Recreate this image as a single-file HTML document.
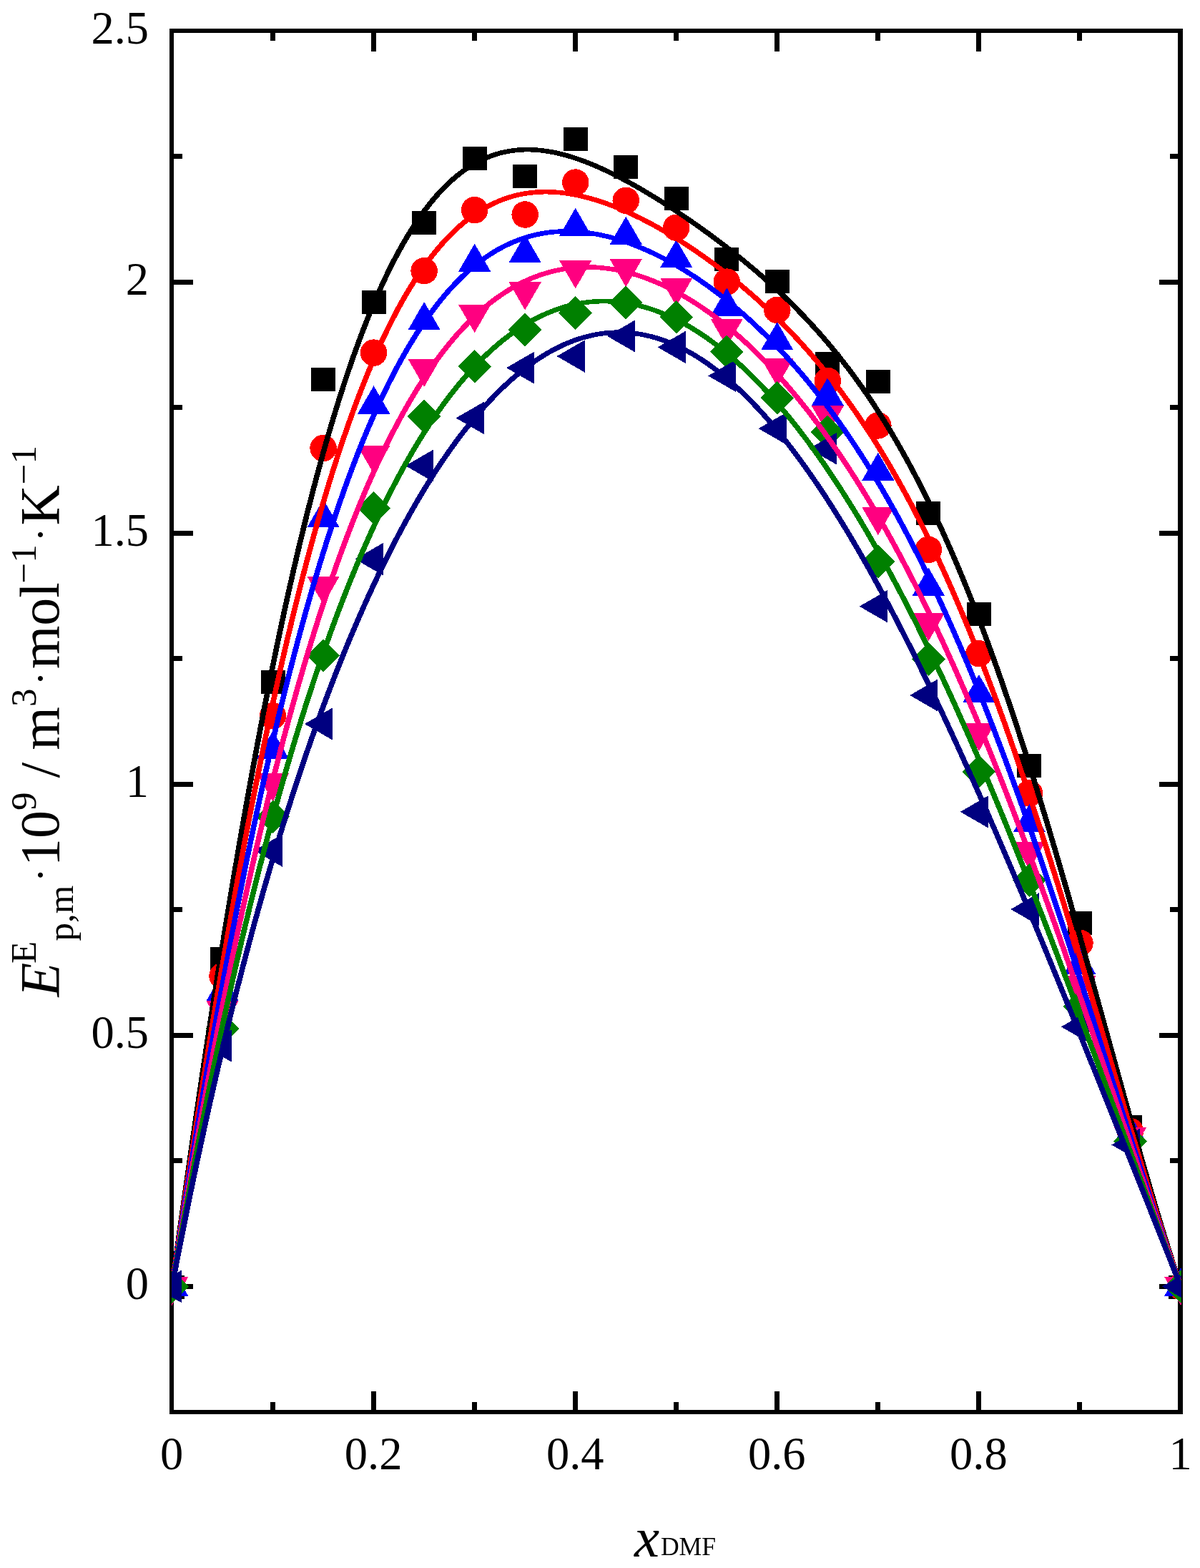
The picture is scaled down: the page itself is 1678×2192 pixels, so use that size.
<!DOCTYPE html>
<html lang="en"><head><meta charset="utf-8"><title>Excess molar isobaric expansion</title>
<style>html,body{margin:0;padding:0;background:#fff;overflow:hidden}svg{display:block}text{font-family:"Liberation Serif",serif;fill:#000}</style></head><body>
<svg width="1678" height="2192" viewBox="0 0 1678 2192">
<rect width="1678" height="2192" fill="#fff"/>
<g fill="#000" shape-rendering="crispEdges">
<rect x="237" y="40" width="6" height="1937"/>
<rect x="1647" y="40" width="7" height="1937"/>
<rect x="237" y="40" width="1417" height="6"/>
<rect x="237" y="1971" width="1417" height="6"/>
<rect x="378" y="1960" width="7" height="14"/><rect x="378" y="43" width="7" height="14"/>
<rect x="519" y="1945" width="7" height="29"/><rect x="519" y="43" width="7" height="29"/>
<rect x="660" y="1960" width="7" height="14"/><rect x="660" y="43" width="7" height="14"/>
<rect x="801" y="1945" width="7" height="29"/><rect x="801" y="43" width="7" height="29"/>
<rect x="942" y="1960" width="7" height="14"/><rect x="942" y="43" width="7" height="14"/>
<rect x="1083" y="1945" width="7" height="29"/><rect x="1083" y="43" width="7" height="29"/>
<rect x="1224" y="1960" width="7" height="14"/><rect x="1224" y="43" width="7" height="14"/>
<rect x="1365" y="1945" width="7" height="29"/><rect x="1365" y="43" width="7" height="29"/>
<rect x="1506" y="1960" width="7" height="14"/><rect x="1506" y="43" width="7" height="14"/>
<rect x="240" y="1795" width="30" height="7"/><rect x="1621" y="1795" width="29" height="7"/>
<rect x="240" y="1619" width="15" height="7"/><rect x="1636" y="1619" width="14" height="7"/>
<rect x="240" y="1444" width="30" height="7"/><rect x="1621" y="1444" width="29" height="7"/>
<rect x="240" y="1268" width="15" height="7"/><rect x="1636" y="1268" width="14" height="7"/>
<rect x="240" y="1093" width="30" height="7"/><rect x="1621" y="1093" width="29" height="7"/>
<rect x="240" y="917" width="15" height="7"/><rect x="1636" y="917" width="14" height="7"/>
<rect x="240" y="742" width="30" height="7"/><rect x="1621" y="742" width="29" height="7"/>
<rect x="240" y="566" width="15" height="7"/><rect x="1636" y="566" width="14" height="7"/>
<rect x="240" y="391" width="30" height="7"/><rect x="1621" y="391" width="29" height="7"/>
<rect x="240" y="215" width="15" height="7"/><rect x="1636" y="215" width="14" height="7"/>
</g>
<g font-size="64.5" text-anchor="middle">
<text x="240.00" y="2053.8">0</text>
<text x="522.10" y="2053.8">0.2</text>
<text x="804.20" y="2053.8">0.4</text>
<text x="1086.30" y="2053.8">0.6</text>
<text x="1368.40" y="2053.8">0.8</text>
<text x="1650.50" y="2053.8">1</text>
</g>
<g font-size="64.5" text-anchor="end">
<text x="208" y="1816.35">0</text>
<text x="208" y="1465.26">0.5</text>
<text x="208" y="1114.17">1</text>
<text x="208" y="763.08">1.5</text>
<text x="208" y="411.99">2</text>
<text x="208" y="60.90">2.5</text>
</g>
<text transform="translate(81.8 1400) rotate(-90)"><tspan x="6.6" y="0.0" font-size="78" font-style="italic">E</tspan><tspan x="52.9" y="-31.4" font-size="51">E</tspan><tspan x="84.5" y="20.3" font-size="51">p,m</tspan><tspan x="166.9" y="-6.2" font-size="59">·</tspan><tspan x="189.0" y="0.0" font-size="78">10</tspan><tspan x="267.1" y="-31.4" font-size="51">9</tspan><tspan x="312.4" y="0.0" font-size="78">/</tspan><tspan x="351.3" y="0.0" font-size="78">m</tspan><tspan x="412.0" y="-31.4" font-size="51">3</tspan><tspan x="441.8" y="-6.2" font-size="59">·</tspan><tspan x="464.7" y="0.0" font-size="78">mol</tspan><tspan x="584.6" y="-31.4" font-size="51">−1</tspan><tspan x="642.7" y="-6.2" font-size="59">·</tspan><tspan x="665.6" y="0.0" font-size="78">K</tspan><tspan x="722.7" y="-31.4" font-size="51">−1</tspan></text>
<text><tspan x="886.9" y="2175.8" font-size="79" font-style="italic">x</tspan><tspan x="923.9" y="2174.1" font-size="35.6">DMF</tspan></text>
<defs><clipPath id="c"><rect x="240" y="43" width="1412" height="1931" shape-rendering="crispEdges"/></clipPath></defs>
<g clip-path="url(#c)" shape-rendering="crispEdges">
<rect x="223.50" y="1782.94" width="34" height="33" fill="#000000"/>
<rect x="294.02" y="1324.13" width="34" height="33" fill="#000000"/>
<rect x="364.55" y="937.23" width="34" height="33" fill="#000000"/>
<rect x="435.07" y="513.81" width="34" height="33" fill="#000000"/>
<rect x="505.60" y="405.68" width="34" height="33" fill="#000000"/>
<rect x="576.12" y="294.73" width="34" height="33" fill="#000000"/>
<rect x="646.65" y="204.85" width="34" height="33" fill="#000000"/>
<rect x="717.17" y="230.13" width="34" height="33" fill="#000000"/>
<rect x="787.70" y="178.17" width="34" height="33" fill="#000000"/>
<rect x="858.23" y="217.49" width="34" height="33" fill="#000000"/>
<rect x="928.75" y="261.03" width="34" height="33" fill="#000000"/>
<rect x="999.28" y="345.99" width="34" height="33" fill="#000000"/>
<rect x="1069.80" y="376.89" width="34" height="33" fill="#000000"/>
<rect x="1140.33" y="492.05" width="34" height="33" fill="#000000"/>
<rect x="1210.85" y="516.62" width="34" height="33" fill="#000000"/>
<rect x="1281.38" y="701.30" width="34" height="33" fill="#000000"/>
<rect x="1351.90" y="841.73" width="34" height="33" fill="#000000"/>
<rect x="1422.42" y="1053.79" width="34" height="33" fill="#000000"/>
<rect x="1492.95" y="1274.28" width="34" height="33" fill="#000000"/>
<rect x="1563.47" y="1559.36" width="34" height="33" fill="#000000"/>
<rect x="1634.00" y="1782.94" width="34" height="33" fill="#000000"/>
<circle cx="240.50" cy="1798.45" r="18.75" fill="#ff0000"/>
<circle cx="311.02" cy="1364.51" r="18.75" fill="#ff0000"/>
<circle cx="381.55" cy="1000.78" r="18.75" fill="#ff0000"/>
<circle cx="452.07" cy="626.51" r="18.75" fill="#ff0000"/>
<circle cx="522.60" cy="493.10" r="18.75" fill="#ff0000"/>
<circle cx="593.12" cy="378.64" r="18.75" fill="#ff0000"/>
<circle cx="663.65" cy="293.68" r="18.75" fill="#ff0000"/>
<circle cx="734.17" cy="300.00" r="18.75" fill="#ff0000"/>
<circle cx="804.70" cy="255.06" r="18.75" fill="#ff0000"/>
<circle cx="875.23" cy="280.34" r="18.75" fill="#ff0000"/>
<circle cx="945.75" cy="318.26" r="18.75" fill="#ff0000"/>
<circle cx="1016.28" cy="394.09" r="18.75" fill="#ff0000"/>
<circle cx="1086.80" cy="433.41" r="18.75" fill="#ff0000"/>
<circle cx="1157.33" cy="532.42" r="18.75" fill="#ff0000"/>
<circle cx="1227.85" cy="594.91" r="18.75" fill="#ff0000"/>
<circle cx="1298.38" cy="768.35" r="18.75" fill="#ff0000"/>
<circle cx="1368.90" cy="913.71" r="18.75" fill="#ff0000"/>
<circle cx="1439.42" cy="1108.91" r="18.75" fill="#ff0000"/>
<circle cx="1509.95" cy="1318.16" r="18.75" fill="#ff0000"/>
<circle cx="1580.47" cy="1581.48" r="18.75" fill="#ff0000"/>
<circle cx="1651.00" cy="1798.45" r="18.75" fill="#ff0000"/>
<polygon points="240.50,1772.30 217.85,1811.53 263.15,1811.53" fill="#0000ff"/>
<polygon points="311.02,1360.12 288.38,1399.35 333.67,1399.35" fill="#0000ff"/>
<polygon points="381.55,1021.67 358.90,1060.90 404.20,1060.90" fill="#0000ff"/>
<polygon points="452.07,697.96 429.43,737.19 474.72,737.19" fill="#0000ff"/>
<polygon points="522.60,539.27 499.95,578.50 545.25,578.50" fill="#0000ff"/>
<polygon points="593.12,422.00 570.48,461.24 615.77,461.24" fill="#0000ff"/>
<polygon points="663.65,340.55 641.00,379.78 686.30,379.78" fill="#0000ff"/>
<polygon points="734.17,327.91 711.52,367.14 756.82,367.14" fill="#0000ff"/>
<polygon points="804.70,290.70 782.05,329.93 827.35,329.93" fill="#0000ff"/>
<polygon points="875.23,302.63 852.58,341.86 897.88,341.86" fill="#0000ff"/>
<polygon points="945.75,334.93 923.10,374.17 968.40,374.17" fill="#0000ff"/>
<polygon points="1016.28,402.34 993.63,441.57 1038.93,441.57" fill="#0000ff"/>
<polygon points="1086.80,450.09 1064.15,489.32 1109.45,489.32" fill="#0000ff"/>
<polygon points="1157.33,528.03 1134.67,567.27 1179.98,567.27" fill="#0000ff"/>
<polygon points="1227.85,632.66 1205.20,671.89 1250.50,671.89" fill="#0000ff"/>
<polygon points="1298.38,793.46 1275.72,832.69 1321.03,832.69" fill="#0000ff"/>
<polygon points="1368.90,943.02 1346.25,982.25 1391.55,982.25" fill="#0000ff"/>
<polygon points="1439.42,1124.19 1416.77,1163.42 1462.08,1163.42" fill="#0000ff"/>
<polygon points="1509.95,1322.90 1487.30,1362.14 1532.60,1362.14" fill="#0000ff"/>
<polygon points="1580.47,1558.14 1557.82,1597.37 1603.12,1597.37" fill="#0000ff"/>
<polygon points="1651.00,1772.30 1628.35,1811.53 1673.65,1811.53" fill="#0000ff"/>
<polygon points="240.50,1824.61 217.85,1785.38 263.15,1785.38" fill="#ff0080"/>
<polygon points="311.02,1438.41 288.38,1399.18 333.67,1399.18" fill="#ff0080"/>
<polygon points="381.55,1120.32 358.90,1081.09 404.20,1081.09" fill="#ff0080"/>
<polygon points="452.07,845.06 429.43,805.83 474.72,805.83" fill="#ff0080"/>
<polygon points="522.60,662.50 499.95,623.27 545.25,623.27" fill="#ff0080"/>
<polygon points="593.12,541.02 570.48,501.79 615.77,501.79" fill="#ff0080"/>
<polygon points="663.65,465.18 641.00,425.95 686.30,425.95" fill="#ff0080"/>
<polygon points="734.17,433.59 711.52,394.36 756.82,394.36" fill="#ff0080"/>
<polygon points="804.70,403.39 782.05,364.16 827.35,364.16" fill="#ff0080"/>
<polygon points="875.23,401.29 852.58,362.06 897.88,362.06" fill="#ff0080"/>
<polygon points="945.75,427.97 923.10,388.74 968.40,388.74" fill="#ff0080"/>
<polygon points="1016.28,484.85 993.63,445.61 1038.93,445.61" fill="#ff0080"/>
<polygon points="1086.80,540.32 1064.15,501.09 1109.45,501.09" fill="#ff0080"/>
<polygon points="1157.33,606.32 1134.67,567.09 1179.98,567.09" fill="#ff0080"/>
<polygon points="1227.85,748.16 1205.20,708.93 1250.50,708.93" fill="#ff0080"/>
<polygon points="1298.38,896.32 1275.72,857.09 1321.03,857.09" fill="#ff0080"/>
<polygon points="1368.90,1050.10 1346.25,1010.87 1391.55,1010.87" fill="#ff0080"/>
<polygon points="1439.42,1215.82 1416.77,1176.59 1462.08,1176.59" fill="#ff0080"/>
<polygon points="1509.95,1403.30 1487.30,1364.07 1532.60,1364.07" fill="#ff0080"/>
<polygon points="1580.47,1615.36 1557.82,1576.13 1603.12,1576.13" fill="#ff0080"/>
<polygon points="1651.00,1824.61 1628.35,1785.38 1673.65,1785.38" fill="#ff0080"/>
<polygon points="240.50,1775.05 263.90,1798.45 240.50,1821.85 217.10,1798.45" fill="#008000"/>
<polygon points="311.02,1414.84 334.42,1438.24 311.02,1461.64 287.62,1438.24" fill="#008000"/>
<polygon points="381.55,1118.51 404.95,1141.91 381.55,1165.31 358.15,1141.91" fill="#008000"/>
<polygon points="452.07,893.11 475.47,916.51 452.07,939.91 428.68,916.51" fill="#008000"/>
<polygon points="522.60,686.67 546.00,710.07 522.60,733.47 499.20,710.07" fill="#008000"/>
<polygon points="593.12,558.88 616.52,582.28 593.12,605.68 569.73,582.28" fill="#008000"/>
<polygon points="663.65,488.66 687.05,512.06 663.65,535.46 640.25,512.06" fill="#008000"/>
<polygon points="734.17,437.40 757.57,460.80 734.17,484.20 710.77,460.80" fill="#008000"/>
<polygon points="804.70,414.23 828.10,437.63 804.70,461.03 781.30,437.63" fill="#008000"/>
<polygon points="875.23,399.48 898.62,422.88 875.23,446.28 851.83,422.88" fill="#008000"/>
<polygon points="945.75,419.84 969.15,443.24 945.75,466.64 922.35,443.24" fill="#008000"/>
<polygon points="1016.28,468.29 1039.68,491.69 1016.28,515.09 992.88,491.69" fill="#008000"/>
<polygon points="1086.80,532.89 1110.20,556.29 1086.80,579.69 1063.40,556.29" fill="#008000"/>
<polygon points="1157.33,580.64 1180.73,604.04 1157.33,627.44 1133.92,604.04" fill="#008000"/>
<polygon points="1227.85,761.81 1251.25,785.21 1227.85,808.61 1204.45,785.21" fill="#008000"/>
<polygon points="1298.38,898.03 1321.78,921.43 1298.38,944.83 1274.97,921.43" fill="#008000"/>
<polygon points="1368.90,1055.32 1392.30,1078.72 1368.90,1102.12 1345.50,1078.72" fill="#008000"/>
<polygon points="1439.42,1206.99 1462.83,1230.39 1439.42,1253.79 1416.02,1230.39" fill="#008000"/>
<polygon points="1509.95,1383.24 1533.35,1406.64 1509.95,1430.04 1486.55,1406.64" fill="#008000"/>
<polygon points="1580.47,1572.12 1603.88,1595.52 1580.47,1618.92 1557.07,1595.52" fill="#008000"/>
<polygon points="1651.00,1775.05 1674.40,1798.45 1651.00,1821.85 1627.60,1798.45" fill="#008000"/>
<polygon points="214.35,1798.45 253.58,1775.80 253.58,1821.10" fill="#000080"/>
<polygon points="284.87,1462.11 324.10,1439.46 324.10,1484.76" fill="#000080"/>
<polygon points="355.40,1188.96 394.63,1166.31 394.63,1211.61" fill="#000080"/>
<polygon points="425.92,1012.01 465.15,989.36 465.15,1034.66" fill="#000080"/>
<polygon points="496.45,781.70 535.68,759.05 535.68,804.35" fill="#000080"/>
<polygon points="566.97,651.09 606.20,628.44 606.20,673.74" fill="#000080"/>
<polygon points="637.50,584.38 676.73,561.73 676.73,607.03" fill="#000080"/>
<polygon points="708.02,514.16 747.25,491.51 747.25,536.81" fill="#000080"/>
<polygon points="778.55,498.01 817.78,475.36 817.78,520.66" fill="#000080"/>
<polygon points="849.07,469.93 888.30,447.28 888.30,492.58" fill="#000080"/>
<polygon points="919.60,485.37 958.83,462.72 958.83,508.02" fill="#000080"/>
<polygon points="990.12,525.40 1029.35,502.75 1029.35,548.05" fill="#000080"/>
<polygon points="1060.65,599.13 1099.88,576.48 1099.88,621.78" fill="#000080"/>
<polygon points="1131.17,627.22 1170.40,604.57 1170.40,649.87" fill="#000080"/>
<polygon points="1201.70,847.70 1240.93,825.05 1240.93,870.35" fill="#000080"/>
<polygon points="1272.22,971.99 1311.45,949.34 1311.45,994.64" fill="#000080"/>
<polygon points="1342.75,1134.89 1381.98,1112.24 1381.98,1157.54" fill="#000080"/>
<polygon points="1413.27,1271.12 1452.50,1248.47 1452.50,1293.77" fill="#000080"/>
<polygon points="1483.80,1435.43 1523.03,1412.78 1523.03,1458.08" fill="#000080"/>
<polygon points="1554.32,1600.44 1593.55,1577.79 1593.55,1623.09" fill="#000080"/>
<polygon points="1624.85,1798.45 1664.08,1775.80 1664.08,1821.10" fill="#000080"/>
<path d="M239.95 1798.45 L247.00 1747.49 L254.05 1697.18 L261.11 1647.57 L268.16 1598.67 L275.21 1550.52 L282.26 1503.14 L289.32 1456.56 L296.37 1410.79 L303.42 1365.86 L310.47 1321.77 L317.53 1278.56 L324.58 1236.22 L331.63 1194.79 L338.69 1154.25 L345.74 1114.63 L352.79 1075.94 L359.84 1038.18 L366.89 1001.35 L373.95 965.46 L381.00 930.51 L388.05 896.51 L395.10 863.45 L402.16 831.33 L409.21 800.16 L416.26 769.93 L423.31 740.63 L430.37 712.27 L437.42 684.83 L444.47 658.31 L451.52 632.70 L458.58 607.99 L465.63 584.18 L472.68 561.26 L479.74 539.21 L486.79 518.03 L493.84 497.69 L500.89 478.20 L507.94 459.54 L515.00 441.70 L522.05 424.65 L529.10 408.40 L536.15 392.92 L543.21 378.19 L550.26 364.22 L557.31 350.97 L564.37 338.43 L571.42 326.60 L578.47 315.44 L585.52 304.95 L592.58 295.11 L599.63 285.90 L606.68 277.31 L613.73 269.32 L620.79 261.91 L627.84 255.07 L634.89 248.77 L641.94 243.01 L649.00 237.77 L656.05 233.02 L663.10 228.76 L670.15 224.96 L677.21 221.62 L684.26 218.70 L691.31 216.21 L698.36 214.12 L705.42 212.42 L712.47 211.09 L719.52 210.11 L726.57 209.48 L733.63 209.18 L740.68 209.19 L747.73 209.50 L754.78 210.09 L761.84 210.96 L768.89 212.08 L775.94 213.46 L782.99 215.07 L790.05 216.90 L797.10 218.94 L804.15 221.19 L811.20 223.63 L818.26 226.24 L825.31 229.03 L832.36 231.98 L839.41 235.08 L846.47 238.32 L853.52 241.70 L860.57 245.21 L867.62 248.84 L874.68 252.58 L881.73 256.44 L888.78 260.39 L895.83 264.45 L902.89 268.60 L909.94 272.84 L916.99 277.16 L924.04 281.57 L931.10 286.06 L938.15 290.62 L945.20 295.27 L952.25 299.98 L959.31 304.77 L966.36 309.64 L973.41 314.57 L980.46 319.58 L987.52 324.67 L994.57 329.83 L1001.62 335.08 L1008.67 340.40 L1015.73 345.81 L1022.78 351.30 L1029.83 356.89 L1036.88 362.57 L1043.94 368.34 L1050.99 374.23 L1058.04 380.22 L1065.09 386.32 L1072.14 392.55 L1079.20 398.90 L1086.25 405.38 L1093.30 412.01 L1100.36 418.78 L1107.41 425.70 L1114.46 432.79 L1121.51 440.04 L1128.57 447.47 L1135.62 455.09 L1142.67 462.90 L1149.72 470.91 L1156.78 479.13 L1163.83 487.57 L1170.88 496.24 L1177.93 505.14 L1184.99 514.29 L1192.04 523.70 L1199.09 533.37 L1206.14 543.31 L1213.20 553.54 L1220.25 564.05 L1227.30 574.87 L1234.35 585.99 L1241.40 597.43 L1248.46 609.19 L1255.51 621.29 L1262.56 633.73 L1269.62 646.52 L1276.67 659.66 L1283.72 673.17 L1290.77 687.04 L1297.83 701.29 L1304.88 715.92 L1311.93 730.94 L1318.98 746.35 L1326.04 762.16 L1333.09 778.36 L1340.14 794.97 L1347.19 811.99 L1354.25 829.41 L1361.30 847.24 L1368.35 865.48 L1375.40 884.13 L1382.46 903.19 L1389.51 922.65 L1396.56 942.52 L1403.61 962.79 L1410.67 983.44 L1417.72 1004.49 L1424.77 1025.92 L1431.82 1047.73 L1438.88 1069.89 L1445.93 1092.41 L1452.98 1115.28 L1460.03 1138.47 L1467.09 1161.98 L1474.14 1185.79 L1481.19 1209.88 L1488.24 1234.23 L1495.30 1258.83 L1502.35 1283.65 L1509.40 1308.67 L1516.45 1333.87 L1523.51 1359.21 L1530.56 1384.67 L1537.61 1410.22 L1544.66 1435.83 L1551.72 1461.45 L1558.77 1487.07 L1565.82 1512.63 L1572.87 1538.11 L1579.93 1563.44 L1586.98 1588.60 L1594.03 1613.54 L1601.08 1638.19 L1608.13 1662.53 L1615.19 1686.48 L1622.24 1709.99 L1629.29 1733.01 L1636.35 1755.47 L1643.40 1777.31 L1650.45 1798.45" fill="none" stroke="#000000" stroke-width="6.5" stroke-linejoin="round"/><path d="M241.05 1798.45 L248.10 1747.49 L255.16 1697.18 L262.21 1647.57 L269.26 1598.67 L276.31 1550.52 L283.37 1503.14 L290.42 1456.56 L297.47 1410.79 L304.52 1365.86 L311.57 1321.77 L318.63 1278.56 L325.68 1236.22 L332.73 1194.79 L339.79 1154.25 L346.84 1114.63 L353.89 1075.94 L360.94 1038.18 L368.00 1001.35 L375.05 965.46 L382.10 930.51 L389.15 896.51 L396.20 863.45 L403.26 831.33 L410.31 800.16 L417.36 769.93 L424.42 740.63 L431.47 712.27 L438.52 684.83 L445.57 658.31 L452.62 632.70 L459.68 607.99 L466.73 584.18 L473.78 561.26 L480.84 539.21 L487.89 518.03 L494.94 497.69 L501.99 478.20 L509.05 459.54 L516.10 441.70 L523.15 424.65 L530.20 408.40 L537.25 392.92 L544.31 378.19 L551.36 364.22 L558.41 350.97 L565.46 338.43 L572.52 326.60 L579.57 315.44 L586.62 304.95 L593.67 295.11 L600.73 285.90 L607.78 277.31 L614.83 269.32 L621.88 261.91 L628.94 255.07 L635.99 248.77 L643.04 243.01 L650.09 237.77 L657.15 233.02 L664.20 228.76 L671.25 224.96 L678.30 221.62 L685.36 218.70 L692.41 216.21 L699.46 214.12 L706.51 212.42 L713.57 211.09 L720.62 210.11 L727.67 209.48 L734.73 209.18 L741.78 209.19 L748.83 209.50 L755.88 210.09 L762.93 210.96 L769.99 212.08 L777.04 213.46 L784.09 215.07 L791.14 216.90 L798.20 218.94 L805.25 221.19 L812.30 223.63 L819.36 226.24 L826.41 229.03 L833.46 231.98 L840.51 235.08 L847.56 238.32 L854.62 241.70 L861.67 245.21 L868.72 248.84 L875.77 252.58 L882.83 256.44 L889.88 260.39 L896.93 264.45 L903.99 268.60 L911.04 272.84 L918.09 277.16 L925.14 281.57 L932.19 286.06 L939.25 290.62 L946.30 295.27 L953.35 299.98 L960.40 304.77 L967.46 309.64 L974.51 314.57 L981.56 319.58 L988.62 324.67 L995.67 329.83 L1002.72 335.08 L1009.77 340.40 L1016.83 345.81 L1023.88 351.30 L1030.93 356.89 L1037.98 362.57 L1045.04 368.34 L1052.09 374.23 L1059.14 380.22 L1066.19 386.32 L1073.24 392.55 L1080.30 398.90 L1087.35 405.38 L1094.40 412.01 L1101.45 418.78 L1108.51 425.70 L1115.56 432.79 L1122.61 440.04 L1129.66 447.47 L1136.72 455.09 L1143.77 462.90 L1150.82 470.91 L1157.88 479.13 L1164.93 487.57 L1171.98 496.24 L1179.03 505.14 L1186.09 514.29 L1193.14 523.70 L1200.19 533.37 L1207.24 543.31 L1214.30 553.54 L1221.35 564.05 L1228.40 574.87 L1235.45 585.99 L1242.50 597.43 L1249.56 609.19 L1256.61 621.29 L1263.66 633.73 L1270.71 646.52 L1277.77 659.66 L1284.82 673.17 L1291.87 687.04 L1298.92 701.29 L1305.98 715.92 L1313.03 730.94 L1320.08 746.35 L1327.13 762.16 L1334.19 778.36 L1341.24 794.97 L1348.29 811.99 L1355.35 829.41 L1362.40 847.24 L1369.45 865.48 L1376.50 884.13 L1383.56 903.19 L1390.61 922.65 L1397.66 942.52 L1404.71 962.79 L1411.77 983.44 L1418.82 1004.49 L1425.87 1025.92 L1432.92 1047.73 L1439.97 1069.89 L1447.03 1092.41 L1454.08 1115.28 L1461.13 1138.47 L1468.18 1161.98 L1475.24 1185.79 L1482.29 1209.88 L1489.34 1234.23 L1496.39 1258.83 L1503.45 1283.65 L1510.50 1308.67 L1517.55 1333.87 L1524.61 1359.21 L1531.66 1384.67 L1538.71 1410.22 L1545.76 1435.83 L1552.82 1461.45 L1559.87 1487.07 L1566.92 1512.63 L1573.97 1538.11 L1581.03 1563.44 L1588.08 1588.60 L1595.13 1613.54 L1602.18 1638.19 L1609.23 1662.53 L1616.29 1686.48 L1623.34 1709.99 L1630.39 1733.01 L1637.44 1755.47 L1644.50 1777.31 L1651.55 1798.45" fill="none" stroke="#000000" stroke-width="6.5" stroke-linejoin="round"/>
<path d="M239.95 1798.45 L247.00 1750.18 L254.05 1702.60 L261.11 1655.75 L268.16 1609.65 L275.21 1564.30 L282.26 1519.74 L289.32 1475.96 L296.37 1432.98 L303.42 1390.82 L310.47 1349.49 L317.53 1308.99 L324.58 1269.33 L331.63 1230.52 L338.69 1192.56 L345.74 1155.47 L352.79 1119.23 L359.84 1083.86 L366.89 1049.36 L373.95 1015.72 L381.00 982.95 L388.05 951.04 L395.10 920.00 L402.16 889.82 L409.21 860.49 L416.26 832.01 L423.31 804.39 L430.37 777.60 L437.42 751.64 L444.47 726.52 L451.52 702.21 L458.58 678.72 L465.63 656.03 L472.68 634.13 L479.74 613.01 L486.79 592.67 L493.84 573.09 L500.89 554.26 L507.94 536.18 L515.00 518.82 L522.05 502.18 L529.10 486.25 L536.15 471.00 L543.21 456.44 L550.26 442.54 L557.31 429.30 L564.37 416.69 L571.42 404.72 L578.47 393.35 L585.52 382.59 L592.58 372.40 L599.63 362.80 L606.68 353.74 L613.73 345.24 L620.79 337.26 L627.84 329.80 L634.89 322.84 L641.94 316.37 L649.00 310.37 L656.05 304.83 L663.10 299.74 L670.15 295.09 L677.21 290.85 L684.26 287.02 L691.31 283.59 L698.36 280.53 L705.42 277.85 L712.47 275.52 L719.52 273.54 L726.57 271.88 L733.63 270.55 L740.68 269.53 L747.73 268.80 L754.78 268.36 L761.84 268.20 L768.89 268.30 L775.94 268.65 L782.99 269.26 L790.05 270.09 L797.10 271.16 L804.15 272.44 L811.20 273.93 L818.26 275.62 L825.31 277.50 L832.36 279.57 L839.41 281.82 L846.47 284.24 L853.52 286.83 L860.57 289.58 L867.62 292.47 L874.68 295.52 L881.73 298.71 L888.78 302.04 L895.83 305.51 L902.89 309.10 L909.94 312.83 L916.99 316.67 L924.04 320.64 L931.10 324.73 L938.15 328.94 L945.20 333.26 L952.25 337.70 L959.31 342.26 L966.36 346.92 L973.41 351.70 L980.46 356.60 L987.52 361.61 L994.57 366.73 L1001.62 371.98 L1008.67 377.34 L1015.73 382.82 L1022.78 388.43 L1029.83 394.16 L1036.88 400.02 L1043.94 406.01 L1050.99 412.13 L1058.04 418.40 L1065.09 424.81 L1072.14 431.36 L1079.20 438.07 L1086.25 444.94 L1093.30 451.96 L1100.36 459.15 L1107.41 466.52 L1114.46 474.06 L1121.51 481.79 L1128.57 489.71 L1135.62 497.82 L1142.67 506.13 L1149.72 514.65 L1156.78 523.39 L1163.83 532.34 L1170.88 541.53 L1177.93 550.94 L1184.99 560.60 L1192.04 570.50 L1199.09 580.66 L1206.14 591.08 L1213.20 601.76 L1220.25 612.72 L1227.30 623.96 L1234.35 635.48 L1241.40 647.29 L1248.46 659.40 L1255.51 671.82 L1262.56 684.54 L1269.62 697.58 L1276.67 710.93 L1283.72 724.61 L1290.77 738.62 L1297.83 752.96 L1304.88 767.63 L1311.93 782.65 L1318.98 798.01 L1326.04 813.71 L1333.09 829.76 L1340.14 846.16 L1347.19 862.92 L1354.25 880.02 L1361.30 897.47 L1368.35 915.28 L1375.40 933.43 L1382.46 951.93 L1389.51 970.78 L1396.56 989.96 L1403.61 1009.49 L1410.67 1029.35 L1417.72 1049.53 L1424.77 1070.04 L1431.82 1090.86 L1438.88 1111.98 L1445.93 1133.40 L1452.98 1155.11 L1460.03 1177.09 L1467.09 1199.33 L1474.14 1221.82 L1481.19 1244.55 L1488.24 1267.49 L1495.30 1290.64 L1502.35 1313.97 L1509.40 1337.46 L1516.45 1361.10 L1523.51 1384.85 L1530.56 1408.70 L1537.61 1432.63 L1544.66 1456.60 L1551.72 1480.59 L1558.77 1504.56 L1565.82 1528.49 L1572.87 1552.35 L1579.93 1576.09 L1586.98 1599.68 L1594.03 1623.09 L1601.08 1646.28 L1608.13 1669.19 L1615.19 1691.79 L1622.24 1714.04 L1629.29 1735.88 L1636.35 1757.26 L1643.40 1778.14 L1650.45 1798.45" fill="none" stroke="#ff0000" stroke-width="6.5" stroke-linejoin="round"/><path d="M241.05 1798.45 L248.10 1750.18 L255.16 1702.60 L262.21 1655.75 L269.26 1609.65 L276.31 1564.30 L283.37 1519.74 L290.42 1475.96 L297.47 1432.98 L304.52 1390.82 L311.57 1349.49 L318.63 1308.99 L325.68 1269.33 L332.73 1230.52 L339.79 1192.56 L346.84 1155.47 L353.89 1119.23 L360.94 1083.86 L368.00 1049.36 L375.05 1015.72 L382.10 982.95 L389.15 951.04 L396.20 920.00 L403.26 889.82 L410.31 860.49 L417.36 832.01 L424.42 804.39 L431.47 777.60 L438.52 751.64 L445.57 726.52 L452.62 702.21 L459.68 678.72 L466.73 656.03 L473.78 634.13 L480.84 613.01 L487.89 592.67 L494.94 573.09 L501.99 554.26 L509.05 536.18 L516.10 518.82 L523.15 502.18 L530.20 486.25 L537.25 471.00 L544.31 456.44 L551.36 442.54 L558.41 429.30 L565.46 416.69 L572.52 404.72 L579.57 393.35 L586.62 382.59 L593.67 372.40 L600.73 362.80 L607.78 353.74 L614.83 345.24 L621.88 337.26 L628.94 329.80 L635.99 322.84 L643.04 316.37 L650.09 310.37 L657.15 304.83 L664.20 299.74 L671.25 295.09 L678.30 290.85 L685.36 287.02 L692.41 283.59 L699.46 280.53 L706.51 277.85 L713.57 275.52 L720.62 273.54 L727.67 271.88 L734.73 270.55 L741.78 269.53 L748.83 268.80 L755.88 268.36 L762.93 268.20 L769.99 268.30 L777.04 268.65 L784.09 269.26 L791.14 270.09 L798.20 271.16 L805.25 272.44 L812.30 273.93 L819.36 275.62 L826.41 277.50 L833.46 279.57 L840.51 281.82 L847.56 284.24 L854.62 286.83 L861.67 289.58 L868.72 292.47 L875.77 295.52 L882.83 298.71 L889.88 302.04 L896.93 305.51 L903.99 309.10 L911.04 312.83 L918.09 316.67 L925.14 320.64 L932.19 324.73 L939.25 328.94 L946.30 333.26 L953.35 337.70 L960.40 342.26 L967.46 346.92 L974.51 351.70 L981.56 356.60 L988.62 361.61 L995.67 366.73 L1002.72 371.98 L1009.77 377.34 L1016.83 382.82 L1023.88 388.43 L1030.93 394.16 L1037.98 400.02 L1045.04 406.01 L1052.09 412.13 L1059.14 418.40 L1066.19 424.81 L1073.24 431.36 L1080.30 438.07 L1087.35 444.94 L1094.40 451.96 L1101.45 459.15 L1108.51 466.52 L1115.56 474.06 L1122.61 481.79 L1129.66 489.71 L1136.72 497.82 L1143.77 506.13 L1150.82 514.65 L1157.88 523.39 L1164.93 532.34 L1171.98 541.53 L1179.03 550.94 L1186.09 560.60 L1193.14 570.50 L1200.19 580.66 L1207.24 591.08 L1214.30 601.76 L1221.35 612.72 L1228.40 623.96 L1235.45 635.48 L1242.50 647.29 L1249.56 659.40 L1256.61 671.82 L1263.66 684.54 L1270.71 697.58 L1277.77 710.93 L1284.82 724.61 L1291.87 738.62 L1298.92 752.96 L1305.98 767.63 L1313.03 782.65 L1320.08 798.01 L1327.13 813.71 L1334.19 829.76 L1341.24 846.16 L1348.29 862.92 L1355.35 880.02 L1362.40 897.47 L1369.45 915.28 L1376.50 933.43 L1383.56 951.93 L1390.61 970.78 L1397.66 989.96 L1404.71 1009.49 L1411.77 1029.35 L1418.82 1049.53 L1425.87 1070.04 L1432.92 1090.86 L1439.97 1111.98 L1447.03 1133.40 L1454.08 1155.11 L1461.13 1177.09 L1468.18 1199.33 L1475.24 1221.82 L1482.29 1244.55 L1489.34 1267.49 L1496.39 1290.64 L1503.45 1313.97 L1510.50 1337.46 L1517.55 1361.10 L1524.61 1384.85 L1531.66 1408.70 L1538.71 1432.63 L1545.76 1456.60 L1552.82 1480.59 L1559.87 1504.56 L1566.92 1528.49 L1573.97 1552.35 L1581.03 1576.09 L1588.08 1599.68 L1595.13 1623.09 L1602.18 1646.28 L1609.23 1669.19 L1616.29 1691.79 L1623.34 1714.04 L1630.39 1735.88 L1637.44 1757.26 L1644.50 1778.14 L1651.55 1798.45" fill="none" stroke="#ff0000" stroke-width="6.5" stroke-linejoin="round"/>
<path d="M239.95 1798.45 L247.00 1752.81 L254.05 1707.93 L261.11 1663.82 L268.16 1620.49 L275.21 1577.93 L282.26 1536.17 L289.32 1495.20 L296.37 1455.03 L303.42 1415.66 L310.47 1377.09 L317.53 1339.33 L324.58 1302.37 L331.63 1266.22 L338.69 1230.88 L345.74 1196.34 L352.79 1162.61 L359.84 1129.67 L366.89 1097.53 L373.95 1066.19 L381.00 1035.64 L388.05 1005.88 L395.10 976.89 L402.16 948.68 L409.21 921.24 L416.26 894.57 L423.31 868.65 L430.37 843.48 L437.42 819.05 L444.47 795.35 L451.52 772.39 L458.58 750.13 L465.63 728.59 L472.68 707.74 L479.74 687.59 L486.79 668.12 L493.84 649.31 L500.89 631.17 L507.94 613.67 L515.00 596.82 L522.05 580.60 L529.10 564.99 L536.15 549.99 L543.21 535.59 L550.26 521.78 L557.31 508.54 L564.37 495.87 L571.42 483.74 L578.47 472.16 L585.52 461.11 L592.58 450.58 L599.63 440.56 L606.68 431.03 L613.73 421.99 L620.79 413.43 L627.84 405.33 L634.89 397.68 L641.94 390.47 L649.00 383.70 L656.05 377.34 L663.10 371.40 L670.15 365.86 L677.21 360.70 L684.26 355.92 L691.31 351.52 L698.36 347.47 L705.42 343.77 L712.47 340.41 L719.52 337.38 L726.57 334.68 L733.63 332.29 L740.68 330.20 L747.73 328.40 L754.78 326.90 L761.84 325.67 L768.89 324.71 L775.94 324.02 L782.99 323.58 L790.05 323.39 L797.10 323.45 L804.15 323.74 L811.20 324.26 L818.26 325.00 L825.31 325.96 L832.36 327.13 L839.41 328.50 L846.47 330.08 L853.52 331.86 L860.57 333.82 L867.62 335.98 L874.68 338.31 L881.73 340.83 L888.78 343.52 L895.83 346.39 L902.89 349.42 L909.94 352.63 L916.99 356.00 L924.04 359.53 L931.10 363.22 L938.15 367.08 L945.20 371.09 L952.25 375.26 L959.31 379.58 L966.36 384.07 L973.41 388.71 L980.46 393.50 L987.52 398.45 L994.57 403.56 L1001.62 408.82 L1008.67 414.25 L1015.73 419.83 L1022.78 425.57 L1029.83 431.48 L1036.88 437.55 L1043.94 443.79 L1050.99 450.19 L1058.04 456.77 L1065.09 463.52 L1072.14 470.44 L1079.20 477.55 L1086.25 484.83 L1093.30 492.30 L1100.36 499.96 L1107.41 507.81 L1114.46 515.86 L1121.51 524.10 L1128.57 532.55 L1135.62 541.21 L1142.67 550.07 L1149.72 559.15 L1156.78 568.45 L1163.83 577.97 L1170.88 587.71 L1177.93 597.69 L1184.99 607.90 L1192.04 618.34 L1199.09 629.03 L1206.14 639.97 L1213.20 651.16 L1220.25 662.60 L1227.30 674.30 L1234.35 686.26 L1241.40 698.49 L1248.46 710.98 L1255.51 723.75 L1262.56 736.79 L1269.62 750.10 L1276.67 763.70 L1283.72 777.58 L1290.77 791.75 L1297.83 806.20 L1304.88 820.95 L1311.93 835.98 L1318.98 851.30 L1326.04 866.92 L1333.09 882.82 L1340.14 899.02 L1347.19 915.52 L1354.25 932.30 L1361.30 949.37 L1368.35 966.74 L1375.40 984.39 L1382.46 1002.32 L1389.51 1020.53 L1396.56 1039.03 L1403.61 1057.79 L1410.67 1076.83 L1417.72 1096.12 L1424.77 1115.68 L1431.82 1135.48 L1438.88 1155.53 L1445.93 1175.81 L1452.98 1196.32 L1460.03 1217.04 L1467.09 1237.97 L1474.14 1259.10 L1481.19 1280.41 L1488.24 1301.89 L1495.30 1323.53 L1502.35 1345.31 L1509.40 1367.21 L1516.45 1389.23 L1523.51 1411.34 L1530.56 1433.52 L1537.61 1455.76 L1544.66 1478.03 L1551.72 1500.31 L1558.77 1522.59 L1565.82 1544.82 L1572.87 1567.00 L1579.93 1589.09 L1586.98 1611.07 L1594.03 1632.90 L1601.08 1654.56 L1608.13 1676.01 L1615.19 1697.23 L1622.24 1718.17 L1629.29 1738.80 L1636.35 1759.08 L1643.40 1778.98 L1650.45 1798.45" fill="none" stroke="#0000ff" stroke-width="6.5" stroke-linejoin="round"/><path d="M241.05 1798.45 L248.10 1752.81 L255.16 1707.93 L262.21 1663.82 L269.26 1620.49 L276.31 1577.93 L283.37 1536.17 L290.42 1495.20 L297.47 1455.03 L304.52 1415.66 L311.57 1377.09 L318.63 1339.33 L325.68 1302.37 L332.73 1266.22 L339.79 1230.88 L346.84 1196.34 L353.89 1162.61 L360.94 1129.67 L368.00 1097.53 L375.05 1066.19 L382.10 1035.64 L389.15 1005.88 L396.20 976.89 L403.26 948.68 L410.31 921.24 L417.36 894.57 L424.42 868.65 L431.47 843.48 L438.52 819.05 L445.57 795.35 L452.62 772.39 L459.68 750.13 L466.73 728.59 L473.78 707.74 L480.84 687.59 L487.89 668.12 L494.94 649.31 L501.99 631.17 L509.05 613.67 L516.10 596.82 L523.15 580.60 L530.20 564.99 L537.25 549.99 L544.31 535.59 L551.36 521.78 L558.41 508.54 L565.46 495.87 L572.52 483.74 L579.57 472.16 L586.62 461.11 L593.67 450.58 L600.73 440.56 L607.78 431.03 L614.83 421.99 L621.88 413.43 L628.94 405.33 L635.99 397.68 L643.04 390.47 L650.09 383.70 L657.15 377.34 L664.20 371.40 L671.25 365.86 L678.30 360.70 L685.36 355.92 L692.41 351.52 L699.46 347.47 L706.51 343.77 L713.57 340.41 L720.62 337.38 L727.67 334.68 L734.73 332.29 L741.78 330.20 L748.83 328.40 L755.88 326.90 L762.93 325.67 L769.99 324.71 L777.04 324.02 L784.09 323.58 L791.14 323.39 L798.20 323.45 L805.25 323.74 L812.30 324.26 L819.36 325.00 L826.41 325.96 L833.46 327.13 L840.51 328.50 L847.56 330.08 L854.62 331.86 L861.67 333.82 L868.72 335.98 L875.77 338.31 L882.83 340.83 L889.88 343.52 L896.93 346.39 L903.99 349.42 L911.04 352.63 L918.09 356.00 L925.14 359.53 L932.19 363.22 L939.25 367.08 L946.30 371.09 L953.35 375.26 L960.40 379.58 L967.46 384.07 L974.51 388.71 L981.56 393.50 L988.62 398.45 L995.67 403.56 L1002.72 408.82 L1009.77 414.25 L1016.83 419.83 L1023.88 425.57 L1030.93 431.48 L1037.98 437.55 L1045.04 443.79 L1052.09 450.19 L1059.14 456.77 L1066.19 463.52 L1073.24 470.44 L1080.30 477.55 L1087.35 484.83 L1094.40 492.30 L1101.45 499.96 L1108.51 507.81 L1115.56 515.86 L1122.61 524.10 L1129.66 532.55 L1136.72 541.21 L1143.77 550.07 L1150.82 559.15 L1157.88 568.45 L1164.93 577.97 L1171.98 587.71 L1179.03 597.69 L1186.09 607.90 L1193.14 618.34 L1200.19 629.03 L1207.24 639.97 L1214.30 651.16 L1221.35 662.60 L1228.40 674.30 L1235.45 686.26 L1242.50 698.49 L1249.56 710.98 L1256.61 723.75 L1263.66 736.79 L1270.71 750.10 L1277.77 763.70 L1284.82 777.58 L1291.87 791.75 L1298.92 806.20 L1305.98 820.95 L1313.03 835.98 L1320.08 851.30 L1327.13 866.92 L1334.19 882.82 L1341.24 899.02 L1348.29 915.52 L1355.35 932.30 L1362.40 949.37 L1369.45 966.74 L1376.50 984.39 L1383.56 1002.32 L1390.61 1020.53 L1397.66 1039.03 L1404.71 1057.79 L1411.77 1076.83 L1418.82 1096.12 L1425.87 1115.68 L1432.92 1135.48 L1439.97 1155.53 L1447.03 1175.81 L1454.08 1196.32 L1461.13 1217.04 L1468.18 1237.97 L1475.24 1259.10 L1482.29 1280.41 L1489.34 1301.89 L1496.39 1323.53 L1503.45 1345.31 L1510.50 1367.21 L1517.55 1389.23 L1524.61 1411.34 L1531.66 1433.52 L1538.71 1455.76 L1545.76 1478.03 L1552.82 1500.31 L1559.87 1522.59 L1566.92 1544.82 L1573.97 1567.00 L1581.03 1589.09 L1588.08 1611.07 L1595.13 1632.90 L1602.18 1654.56 L1609.23 1676.01 L1616.29 1697.23 L1623.34 1718.17 L1630.39 1738.80 L1637.44 1759.08 L1644.50 1778.98 L1651.55 1798.45" fill="none" stroke="#0000ff" stroke-width="6.5" stroke-linejoin="round"/>
<path d="M239.95 1798.45 L247.00 1755.78 L254.05 1713.89 L261.11 1672.78 L268.16 1632.45 L275.21 1592.91 L282.26 1554.14 L289.32 1516.14 L296.37 1478.91 L303.42 1442.45 L310.47 1406.76 L317.53 1371.82 L324.58 1337.63 L331.63 1304.19 L338.69 1271.50 L345.74 1239.54 L352.79 1208.31 L359.84 1177.81 L366.89 1148.03 L373.95 1118.96 L381.00 1090.59 L388.05 1062.92 L395.10 1035.95 L402.16 1009.66 L409.21 984.04 L416.26 959.09 L423.31 934.81 L430.37 911.18 L437.42 888.19 L444.47 865.84 L451.52 844.12 L458.58 823.02 L465.63 802.54 L472.68 782.65 L479.74 763.36 L486.79 744.66 L493.84 726.54 L500.89 708.98 L507.94 691.99 L515.00 675.54 L522.05 659.64 L529.10 644.28 L536.15 629.43 L543.21 615.11 L550.26 601.29 L557.31 587.98 L564.37 575.15 L571.42 562.80 L578.47 550.93 L585.52 539.52 L592.58 528.57 L599.63 518.07 L606.68 508.01 L613.73 498.37 L620.79 489.17 L627.84 480.37 L634.89 471.98 L641.94 464.00 L649.00 456.40 L656.05 449.19 L663.10 442.35 L670.15 435.88 L677.21 429.77 L684.26 424.02 L691.31 418.61 L698.36 413.55 L705.42 408.81 L712.47 404.41 L719.52 400.32 L726.57 396.55 L733.63 393.08 L740.68 389.92 L747.73 387.05 L754.78 384.47 L761.84 382.18 L768.89 380.16 L775.94 378.42 L782.99 376.95 L790.05 375.74 L797.10 374.79 L804.15 374.09 L811.20 373.64 L818.26 373.44 L825.31 373.48 L832.36 373.76 L839.41 374.27 L846.47 375.02 L853.52 375.99 L860.57 377.18 L867.62 378.60 L874.68 380.23 L881.73 382.08 L888.78 384.14 L895.83 386.41 L902.89 388.89 L909.94 391.58 L916.99 394.47 L924.04 397.56 L931.10 400.86 L938.15 404.35 L945.20 408.05 L952.25 411.94 L959.31 416.03 L966.36 420.32 L973.41 424.80 L980.46 429.48 L987.52 434.35 L994.57 439.42 L1001.62 444.69 L1008.67 450.15 L1015.73 455.80 L1022.78 461.65 L1029.83 467.70 L1036.88 473.94 L1043.94 480.38 L1050.99 487.02 L1058.04 493.86 L1065.09 500.90 L1072.14 508.15 L1079.20 515.59 L1086.25 523.24 L1093.30 531.09 L1100.36 539.16 L1107.41 547.43 L1114.46 555.91 L1121.51 564.60 L1128.57 573.50 L1135.62 582.62 L1142.67 591.95 L1149.72 601.51 L1156.78 611.28 L1163.83 621.27 L1170.88 631.49 L1177.93 641.93 L1184.99 652.60 L1192.04 663.50 L1199.09 674.63 L1206.14 685.98 L1213.20 697.57 L1220.25 709.40 L1227.30 721.46 L1234.35 733.75 L1241.40 746.29 L1248.46 759.06 L1255.51 772.07 L1262.56 785.33 L1269.62 798.82 L1276.67 812.56 L1283.72 826.54 L1290.77 840.76 L1297.83 855.23 L1304.88 869.93 L1311.93 884.88 L1318.98 900.08 L1326.04 915.51 L1333.09 931.18 L1340.14 947.09 L1347.19 963.24 L1354.25 979.63 L1361.30 996.24 L1368.35 1013.09 L1375.40 1030.17 L1382.46 1047.47 L1389.51 1065.00 L1396.56 1082.74 L1403.61 1100.70 L1410.67 1118.87 L1417.72 1137.25 L1424.77 1155.82 L1431.82 1174.59 L1438.88 1193.55 L1445.93 1212.69 L1452.98 1232.01 L1460.03 1251.50 L1467.09 1271.14 L1474.14 1290.94 L1481.19 1310.88 L1488.24 1330.95 L1495.30 1351.15 L1502.35 1371.46 L1509.40 1391.87 L1516.45 1412.37 L1523.51 1432.95 L1530.56 1453.60 L1537.61 1474.29 L1544.66 1495.03 L1551.72 1515.78 L1558.77 1536.54 L1565.82 1557.29 L1572.87 1578.01 L1579.93 1598.69 L1586.98 1619.30 L1594.03 1639.83 L1601.08 1660.26 L1608.13 1680.56 L1615.19 1700.72 L1622.24 1720.70 L1629.29 1740.49 L1636.35 1760.07 L1643.40 1779.39 L1650.45 1798.45" fill="none" stroke="#ff0080" stroke-width="6.5" stroke-linejoin="round"/><path d="M241.05 1798.45 L248.10 1755.78 L255.16 1713.89 L262.21 1672.78 L269.26 1632.45 L276.31 1592.91 L283.37 1554.14 L290.42 1516.14 L297.47 1478.91 L304.52 1442.45 L311.57 1406.76 L318.63 1371.82 L325.68 1337.63 L332.73 1304.19 L339.79 1271.50 L346.84 1239.54 L353.89 1208.31 L360.94 1177.81 L368.00 1148.03 L375.05 1118.96 L382.10 1090.59 L389.15 1062.92 L396.20 1035.95 L403.26 1009.66 L410.31 984.04 L417.36 959.09 L424.42 934.81 L431.47 911.18 L438.52 888.19 L445.57 865.84 L452.62 844.12 L459.68 823.02 L466.73 802.54 L473.78 782.65 L480.84 763.36 L487.89 744.66 L494.94 726.54 L501.99 708.98 L509.05 691.99 L516.10 675.54 L523.15 659.64 L530.20 644.28 L537.25 629.43 L544.31 615.11 L551.36 601.29 L558.41 587.98 L565.46 575.15 L572.52 562.80 L579.57 550.93 L586.62 539.52 L593.67 528.57 L600.73 518.07 L607.78 508.01 L614.83 498.37 L621.88 489.17 L628.94 480.37 L635.99 471.98 L643.04 464.00 L650.09 456.40 L657.15 449.19 L664.20 442.35 L671.25 435.88 L678.30 429.77 L685.36 424.02 L692.41 418.61 L699.46 413.55 L706.51 408.81 L713.57 404.41 L720.62 400.32 L727.67 396.55 L734.73 393.08 L741.78 389.92 L748.83 387.05 L755.88 384.47 L762.93 382.18 L769.99 380.16 L777.04 378.42 L784.09 376.95 L791.14 375.74 L798.20 374.79 L805.25 374.09 L812.30 373.64 L819.36 373.44 L826.41 373.48 L833.46 373.76 L840.51 374.27 L847.56 375.02 L854.62 375.99 L861.67 377.18 L868.72 378.60 L875.77 380.23 L882.83 382.08 L889.88 384.14 L896.93 386.41 L903.99 388.89 L911.04 391.58 L918.09 394.47 L925.14 397.56 L932.19 400.86 L939.25 404.35 L946.30 408.05 L953.35 411.94 L960.40 416.03 L967.46 420.32 L974.51 424.80 L981.56 429.48 L988.62 434.35 L995.67 439.42 L1002.72 444.69 L1009.77 450.15 L1016.83 455.80 L1023.88 461.65 L1030.93 467.70 L1037.98 473.94 L1045.04 480.38 L1052.09 487.02 L1059.14 493.86 L1066.19 500.90 L1073.24 508.15 L1080.30 515.59 L1087.35 523.24 L1094.40 531.09 L1101.45 539.16 L1108.51 547.43 L1115.56 555.91 L1122.61 564.60 L1129.66 573.50 L1136.72 582.62 L1143.77 591.95 L1150.82 601.51 L1157.88 611.28 L1164.93 621.27 L1171.98 631.49 L1179.03 641.93 L1186.09 652.60 L1193.14 663.50 L1200.19 674.63 L1207.24 685.98 L1214.30 697.57 L1221.35 709.40 L1228.40 721.46 L1235.45 733.75 L1242.50 746.29 L1249.56 759.06 L1256.61 772.07 L1263.66 785.33 L1270.71 798.82 L1277.77 812.56 L1284.82 826.54 L1291.87 840.76 L1298.92 855.23 L1305.98 869.93 L1313.03 884.88 L1320.08 900.08 L1327.13 915.51 L1334.19 931.18 L1341.24 947.09 L1348.29 963.24 L1355.35 979.63 L1362.40 996.24 L1369.45 1013.09 L1376.50 1030.17 L1383.56 1047.47 L1390.61 1065.00 L1397.66 1082.74 L1404.71 1100.70 L1411.77 1118.87 L1418.82 1137.25 L1425.87 1155.82 L1432.92 1174.59 L1439.97 1193.55 L1447.03 1212.69 L1454.08 1232.01 L1461.13 1251.50 L1468.18 1271.14 L1475.24 1290.94 L1482.29 1310.88 L1489.34 1330.95 L1496.39 1351.15 L1503.45 1371.46 L1510.50 1391.87 L1517.55 1412.37 L1524.61 1432.95 L1531.66 1453.60 L1538.71 1474.29 L1545.76 1495.03 L1552.82 1515.78 L1559.87 1536.54 L1566.92 1557.29 L1573.97 1578.01 L1581.03 1598.69 L1588.08 1619.30 L1595.13 1639.83 L1602.18 1660.26 L1609.23 1680.56 L1616.29 1700.72 L1623.34 1720.70 L1630.39 1740.49 L1637.44 1760.07 L1644.50 1779.39 L1651.55 1798.45" fill="none" stroke="#ff0080" stroke-width="6.5" stroke-linejoin="round"/>
<path d="M239.95 1798.45 L247.00 1758.47 L254.05 1719.32 L261.11 1680.97 L268.16 1643.43 L275.21 1606.67 L282.26 1570.70 L289.32 1535.48 L296.37 1501.02 L303.42 1467.31 L310.47 1434.33 L317.53 1402.07 L324.58 1370.52 L331.63 1339.67 L338.69 1309.51 L345.74 1280.03 L352.79 1251.22 L359.84 1223.07 L366.89 1195.57 L373.95 1168.70 L381.00 1142.47 L388.05 1116.86 L395.10 1091.85 L402.16 1067.45 L409.21 1043.64 L416.26 1020.41 L423.31 997.75 L430.37 975.66 L437.42 954.12 L444.47 933.13 L451.52 912.68 L458.58 892.76 L465.63 873.36 L472.68 854.47 L479.74 836.09 L486.79 818.20 L493.84 800.81 L500.89 783.90 L507.94 767.46 L515.00 751.49 L522.05 735.98 L529.10 720.92 L536.15 706.31 L543.21 692.14 L550.26 678.40 L557.31 665.08 L564.37 652.19 L571.42 639.71 L578.47 627.63 L585.52 615.96 L592.58 604.68 L599.63 593.79 L606.68 583.28 L613.73 573.15 L620.79 563.39 L627.84 554.00 L634.89 544.97 L641.94 536.30 L649.00 527.98 L656.05 520.00 L663.10 512.37 L670.15 505.07 L677.21 498.11 L684.26 491.47 L691.31 485.16 L698.36 479.17 L705.42 473.50 L712.47 468.13 L719.52 463.08 L726.57 458.33 L733.63 453.88 L740.68 449.73 L747.73 445.87 L754.78 442.31 L761.84 439.03 L768.89 436.04 L775.94 433.32 L782.99 430.89 L790.05 428.73 L797.10 426.85 L804.15 425.24 L811.20 423.90 L818.26 422.82 L825.31 422.00 L832.36 421.45 L839.41 421.16 L846.47 421.13 L853.52 421.35 L860.57 421.82 L867.62 422.55 L874.68 423.53 L881.73 424.76 L888.78 426.23 L895.83 427.95 L902.89 429.91 L909.94 432.12 L916.99 434.57 L924.04 437.26 L931.10 440.19 L938.15 443.36 L945.20 446.77 L952.25 450.41 L959.31 454.29 L966.36 458.40 L973.41 462.75 L980.46 467.33 L987.52 472.15 L994.57 477.19 L1001.62 482.47 L1008.67 487.98 L1015.73 493.71 L1022.78 499.68 L1029.83 505.88 L1036.88 512.31 L1043.94 518.96 L1050.99 525.84 L1058.04 532.95 L1065.09 540.29 L1072.14 547.85 L1079.20 555.64 L1086.25 563.65 L1093.30 571.89 L1100.36 580.36 L1107.41 589.05 L1114.46 597.96 L1121.51 607.10 L1128.57 616.46 L1135.62 626.05 L1142.67 635.85 L1149.72 645.88 L1156.78 656.13 L1163.83 666.61 L1170.88 677.30 L1177.93 688.21 L1184.99 699.34 L1192.04 710.69 L1199.09 722.25 L1206.14 734.03 L1213.20 746.03 L1220.25 758.25 L1227.30 770.67 L1234.35 783.31 L1241.40 796.16 L1248.46 809.23 L1255.51 822.50 L1262.56 835.97 L1269.62 849.66 L1276.67 863.55 L1283.72 877.64 L1290.77 891.93 L1297.83 906.43 L1304.88 921.11 L1311.93 936.00 L1318.98 951.08 L1326.04 966.35 L1333.09 981.80 L1340.14 997.44 L1347.19 1013.27 L1354.25 1029.27 L1361.30 1045.46 L1368.35 1061.81 L1375.40 1078.34 L1382.46 1095.03 L1389.51 1111.89 L1396.56 1128.90 L1403.61 1146.07 L1410.67 1163.39 L1417.72 1180.86 L1424.77 1198.48 L1431.82 1216.23 L1438.88 1234.11 L1445.93 1252.12 L1452.98 1270.25 L1460.03 1288.50 L1467.09 1306.86 L1474.14 1325.32 L1481.19 1343.89 L1488.24 1362.55 L1495.30 1381.29 L1502.35 1400.11 L1509.40 1419.00 L1516.45 1437.96 L1523.51 1456.97 L1530.56 1476.04 L1537.61 1495.14 L1544.66 1514.27 L1551.72 1533.43 L1558.77 1552.60 L1565.82 1571.78 L1572.87 1590.95 L1579.93 1610.11 L1586.98 1629.24 L1594.03 1648.34 L1601.08 1667.39 L1608.13 1686.38 L1615.19 1705.31 L1622.24 1724.15 L1629.29 1742.90 L1636.35 1761.54 L1643.40 1780.06 L1650.45 1798.45" fill="none" stroke="#008000" stroke-width="6.5" stroke-linejoin="round"/><path d="M241.05 1798.45 L248.10 1758.47 L255.16 1719.32 L262.21 1680.97 L269.26 1643.43 L276.31 1606.67 L283.37 1570.70 L290.42 1535.48 L297.47 1501.02 L304.52 1467.31 L311.57 1434.33 L318.63 1402.07 L325.68 1370.52 L332.73 1339.67 L339.79 1309.51 L346.84 1280.03 L353.89 1251.22 L360.94 1223.07 L368.00 1195.57 L375.05 1168.70 L382.10 1142.47 L389.15 1116.86 L396.20 1091.85 L403.26 1067.45 L410.31 1043.64 L417.36 1020.41 L424.42 997.75 L431.47 975.66 L438.52 954.12 L445.57 933.13 L452.62 912.68 L459.68 892.76 L466.73 873.36 L473.78 854.47 L480.84 836.09 L487.89 818.20 L494.94 800.81 L501.99 783.90 L509.05 767.46 L516.10 751.49 L523.15 735.98 L530.20 720.92 L537.25 706.31 L544.31 692.14 L551.36 678.40 L558.41 665.08 L565.46 652.19 L572.52 639.71 L579.57 627.63 L586.62 615.96 L593.67 604.68 L600.73 593.79 L607.78 583.28 L614.83 573.15 L621.88 563.39 L628.94 554.00 L635.99 544.97 L643.04 536.30 L650.09 527.98 L657.15 520.00 L664.20 512.37 L671.25 505.07 L678.30 498.11 L685.36 491.47 L692.41 485.16 L699.46 479.17 L706.51 473.50 L713.57 468.13 L720.62 463.08 L727.67 458.33 L734.73 453.88 L741.78 449.73 L748.83 445.87 L755.88 442.31 L762.93 439.03 L769.99 436.04 L777.04 433.32 L784.09 430.89 L791.14 428.73 L798.20 426.85 L805.25 425.24 L812.30 423.90 L819.36 422.82 L826.41 422.00 L833.46 421.45 L840.51 421.16 L847.56 421.13 L854.62 421.35 L861.67 421.82 L868.72 422.55 L875.77 423.53 L882.83 424.76 L889.88 426.23 L896.93 427.95 L903.99 429.91 L911.04 432.12 L918.09 434.57 L925.14 437.26 L932.19 440.19 L939.25 443.36 L946.30 446.77 L953.35 450.41 L960.40 454.29 L967.46 458.40 L974.51 462.75 L981.56 467.33 L988.62 472.15 L995.67 477.19 L1002.72 482.47 L1009.77 487.98 L1016.83 493.71 L1023.88 499.68 L1030.93 505.88 L1037.98 512.31 L1045.04 518.96 L1052.09 525.84 L1059.14 532.95 L1066.19 540.29 L1073.24 547.85 L1080.30 555.64 L1087.35 563.65 L1094.40 571.89 L1101.45 580.36 L1108.51 589.05 L1115.56 597.96 L1122.61 607.10 L1129.66 616.46 L1136.72 626.05 L1143.77 635.85 L1150.82 645.88 L1157.88 656.13 L1164.93 666.61 L1171.98 677.30 L1179.03 688.21 L1186.09 699.34 L1193.14 710.69 L1200.19 722.25 L1207.24 734.03 L1214.30 746.03 L1221.35 758.25 L1228.40 770.67 L1235.45 783.31 L1242.50 796.16 L1249.56 809.23 L1256.61 822.50 L1263.66 835.97 L1270.71 849.66 L1277.77 863.55 L1284.82 877.64 L1291.87 891.93 L1298.92 906.43 L1305.98 921.11 L1313.03 936.00 L1320.08 951.08 L1327.13 966.35 L1334.19 981.80 L1341.24 997.44 L1348.29 1013.27 L1355.35 1029.27 L1362.40 1045.46 L1369.45 1061.81 L1376.50 1078.34 L1383.56 1095.03 L1390.61 1111.89 L1397.66 1128.90 L1404.71 1146.07 L1411.77 1163.39 L1418.82 1180.86 L1425.87 1198.48 L1432.92 1216.23 L1439.97 1234.11 L1447.03 1252.12 L1454.08 1270.25 L1461.13 1288.50 L1468.18 1306.86 L1475.24 1325.32 L1482.29 1343.89 L1489.34 1362.55 L1496.39 1381.29 L1503.45 1400.11 L1510.50 1419.00 L1517.55 1437.96 L1524.61 1456.97 L1531.66 1476.04 L1538.71 1495.14 L1545.76 1514.27 L1552.82 1533.43 L1559.87 1552.60 L1566.92 1571.78 L1573.97 1590.95 L1581.03 1610.11 L1588.08 1629.24 L1595.13 1648.34 L1602.18 1667.39 L1609.23 1686.38 L1616.29 1705.31 L1623.34 1724.15 L1630.39 1742.90 L1637.44 1761.54 L1644.50 1780.06 L1651.55 1798.45" fill="none" stroke="#008000" stroke-width="6.5" stroke-linejoin="round"/>
<path d="M239.95 1798.45 L247.00 1761.74 L254.05 1725.85 L261.11 1690.76 L268.16 1656.47 L275.21 1622.94 L282.26 1590.16 L289.32 1558.11 L296.37 1526.77 L303.42 1496.13 L310.47 1466.16 L317.53 1436.86 L324.58 1408.19 L331.63 1380.16 L338.69 1352.74 L345.74 1325.93 L352.79 1299.70 L359.84 1274.04 L366.89 1248.94 L373.95 1224.39 L381.00 1200.37 L388.05 1176.88 L395.10 1153.90 L402.16 1131.43 L409.21 1109.44 L416.26 1087.94 L423.31 1066.90 L430.37 1046.33 L437.42 1026.21 L444.47 1006.54 L451.52 987.31 L458.58 968.50 L465.63 950.11 L472.68 932.14 L479.74 914.57 L486.79 897.41 L493.84 880.64 L500.89 864.26 L507.94 848.26 L515.00 832.63 L522.05 817.38 L529.10 802.50 L536.15 787.97 L543.21 773.80 L550.26 759.99 L557.31 746.52 L564.37 733.40 L571.42 720.63 L578.47 708.18 L585.52 696.08 L592.58 684.30 L599.63 672.85 L606.68 661.73 L613.73 650.93 L620.79 640.46 L627.84 630.30 L634.89 620.45 L641.94 610.92 L649.00 601.71 L656.05 592.80 L663.10 584.20 L670.15 575.91 L677.21 567.93 L684.26 560.25 L691.31 552.87 L698.36 545.80 L705.42 539.02 L712.47 532.55 L719.52 526.38 L726.57 520.50 L733.63 514.92 L740.68 509.64 L747.73 504.65 L754.78 499.96 L761.84 495.57 L768.89 491.47 L775.94 487.66 L782.99 484.14 L790.05 480.92 L797.10 477.99 L804.15 475.35 L811.20 473.00 L818.26 470.95 L825.31 469.18 L832.36 467.71 L839.41 466.52 L846.47 465.62 L853.52 465.01 L860.57 464.69 L867.62 464.66 L874.68 464.91 L881.73 465.45 L888.78 466.27 L895.83 467.38 L902.89 468.78 L909.94 470.46 L916.99 472.42 L924.04 474.67 L931.10 477.19 L938.15 480.00 L945.20 483.09 L952.25 486.45 L959.31 490.10 L966.36 494.02 L973.41 498.22 L980.46 502.69 L987.52 507.43 L994.57 512.45 L1001.62 517.74 L1008.67 523.29 L1015.73 529.12 L1022.78 535.21 L1029.83 541.57 L1036.88 548.19 L1043.94 555.07 L1050.99 562.21 L1058.04 569.60 L1065.09 577.26 L1072.14 585.16 L1079.20 593.32 L1086.25 601.73 L1093.30 610.39 L1100.36 619.29 L1107.41 628.43 L1114.46 637.81 L1121.51 647.43 L1128.57 657.29 L1135.62 667.37 L1142.67 677.69 L1149.72 688.23 L1156.78 699.00 L1163.83 709.99 L1170.88 721.20 L1177.93 732.62 L1184.99 744.25 L1192.04 756.09 L1199.09 768.14 L1206.14 780.39 L1213.20 792.84 L1220.25 805.48 L1227.30 818.32 L1234.35 831.34 L1241.40 844.55 L1248.46 857.94 L1255.51 871.50 L1262.56 885.25 L1269.62 899.16 L1276.67 913.23 L1283.72 927.47 L1290.77 941.87 L1297.83 956.43 L1304.88 971.13 L1311.93 985.98 L1318.98 1000.98 L1326.04 1016.11 L1333.09 1031.38 L1340.14 1046.78 L1347.19 1062.30 L1354.25 1077.95 L1361.30 1093.72 L1368.35 1109.60 L1375.40 1125.60 L1382.46 1141.70 L1389.51 1157.90 L1396.56 1174.21 L1403.61 1190.60 L1410.67 1207.09 L1417.72 1223.67 L1424.77 1240.33 L1431.82 1257.07 L1438.88 1273.89 L1445.93 1290.77 L1452.98 1307.73 L1460.03 1324.75 L1467.09 1341.84 L1474.14 1358.98 L1481.19 1376.17 L1488.24 1393.42 L1495.30 1410.72 L1502.35 1428.06 L1509.40 1445.44 L1516.45 1462.86 L1523.51 1480.32 L1530.56 1497.81 L1537.61 1515.33 L1544.66 1532.89 L1551.72 1550.47 L1558.77 1568.07 L1565.82 1585.69 L1572.87 1603.34 L1579.93 1621.00 L1586.98 1638.69 L1594.03 1656.39 L1601.08 1674.10 L1608.13 1691.83 L1615.19 1709.57 L1622.24 1727.32 L1629.29 1745.08 L1636.35 1762.86 L1643.40 1780.65 L1650.45 1798.45" fill="none" stroke="#000080" stroke-width="6.5" stroke-linejoin="round"/><path d="M241.05 1798.45 L248.10 1761.74 L255.16 1725.85 L262.21 1690.76 L269.26 1656.47 L276.31 1622.94 L283.37 1590.16 L290.42 1558.11 L297.47 1526.77 L304.52 1496.13 L311.57 1466.16 L318.63 1436.86 L325.68 1408.19 L332.73 1380.16 L339.79 1352.74 L346.84 1325.93 L353.89 1299.70 L360.94 1274.04 L368.00 1248.94 L375.05 1224.39 L382.10 1200.37 L389.15 1176.88 L396.20 1153.90 L403.26 1131.43 L410.31 1109.44 L417.36 1087.94 L424.42 1066.90 L431.47 1046.33 L438.52 1026.21 L445.57 1006.54 L452.62 987.31 L459.68 968.50 L466.73 950.11 L473.78 932.14 L480.84 914.57 L487.89 897.41 L494.94 880.64 L501.99 864.26 L509.05 848.26 L516.10 832.63 L523.15 817.38 L530.20 802.50 L537.25 787.97 L544.31 773.80 L551.36 759.99 L558.41 746.52 L565.46 733.40 L572.52 720.63 L579.57 708.18 L586.62 696.08 L593.67 684.30 L600.73 672.85 L607.78 661.73 L614.83 650.93 L621.88 640.46 L628.94 630.30 L635.99 620.45 L643.04 610.92 L650.09 601.71 L657.15 592.80 L664.20 584.20 L671.25 575.91 L678.30 567.93 L685.36 560.25 L692.41 552.87 L699.46 545.80 L706.51 539.02 L713.57 532.55 L720.62 526.38 L727.67 520.50 L734.73 514.92 L741.78 509.64 L748.83 504.65 L755.88 499.96 L762.93 495.57 L769.99 491.47 L777.04 487.66 L784.09 484.14 L791.14 480.92 L798.20 477.99 L805.25 475.35 L812.30 473.00 L819.36 470.95 L826.41 469.18 L833.46 467.71 L840.51 466.52 L847.56 465.62 L854.62 465.01 L861.67 464.69 L868.72 464.66 L875.77 464.91 L882.83 465.45 L889.88 466.27 L896.93 467.38 L903.99 468.78 L911.04 470.46 L918.09 472.42 L925.14 474.67 L932.19 477.19 L939.25 480.00 L946.30 483.09 L953.35 486.45 L960.40 490.10 L967.46 494.02 L974.51 498.22 L981.56 502.69 L988.62 507.43 L995.67 512.45 L1002.72 517.74 L1009.77 523.29 L1016.83 529.12 L1023.88 535.21 L1030.93 541.57 L1037.98 548.19 L1045.04 555.07 L1052.09 562.21 L1059.14 569.60 L1066.19 577.26 L1073.24 585.16 L1080.30 593.32 L1087.35 601.73 L1094.40 610.39 L1101.45 619.29 L1108.51 628.43 L1115.56 637.81 L1122.61 647.43 L1129.66 657.29 L1136.72 667.37 L1143.77 677.69 L1150.82 688.23 L1157.88 699.00 L1164.93 709.99 L1171.98 721.20 L1179.03 732.62 L1186.09 744.25 L1193.14 756.09 L1200.19 768.14 L1207.24 780.39 L1214.30 792.84 L1221.35 805.48 L1228.40 818.32 L1235.45 831.34 L1242.50 844.55 L1249.56 857.94 L1256.61 871.50 L1263.66 885.25 L1270.71 899.16 L1277.77 913.23 L1284.82 927.47 L1291.87 941.87 L1298.92 956.43 L1305.98 971.13 L1313.03 985.98 L1320.08 1000.98 L1327.13 1016.11 L1334.19 1031.38 L1341.24 1046.78 L1348.29 1062.30 L1355.35 1077.95 L1362.40 1093.72 L1369.45 1109.60 L1376.50 1125.60 L1383.56 1141.70 L1390.61 1157.90 L1397.66 1174.21 L1404.71 1190.60 L1411.77 1207.09 L1418.82 1223.67 L1425.87 1240.33 L1432.92 1257.07 L1439.97 1273.89 L1447.03 1290.77 L1454.08 1307.73 L1461.13 1324.75 L1468.18 1341.84 L1475.24 1358.98 L1482.29 1376.17 L1489.34 1393.42 L1496.39 1410.72 L1503.45 1428.06 L1510.50 1445.44 L1517.55 1462.86 L1524.61 1480.32 L1531.66 1497.81 L1538.71 1515.33 L1545.76 1532.89 L1552.82 1550.47 L1559.87 1568.07 L1566.92 1585.69 L1573.97 1603.34 L1581.03 1621.00 L1588.08 1638.69 L1595.13 1656.39 L1602.18 1674.10 L1609.23 1691.83 L1616.29 1709.57 L1623.34 1727.32 L1630.39 1745.08 L1637.44 1762.86 L1644.50 1780.65 L1651.55 1798.45" fill="none" stroke="#000080" stroke-width="6.5" stroke-linejoin="round"/>
</g>
</svg></body></html>
